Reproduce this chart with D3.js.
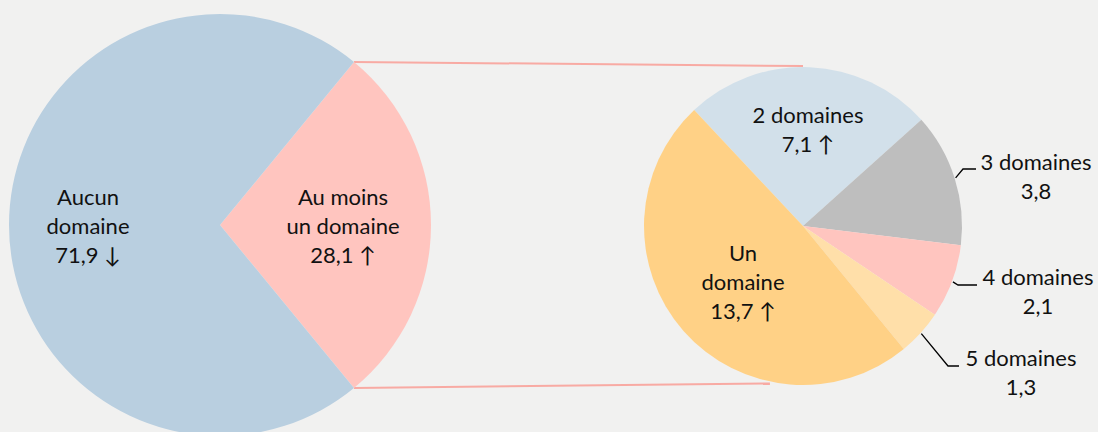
<!DOCTYPE html>
<html>
<head>
<meta charset="utf-8">
<script src="https://cdn.jsdelivr.net/npm/d3@7"></script>
<style>
  body { margin: 0; background: #f1f1f0; }
  svg { display: block; }
  text { font-family: Lato, "Open Sans", sans-serif; font-size: 22px; fill: #111; }
</style>
</head>
<body>
<div id="chart"></div>
<script>
// data
var mainNames = ["Au moins un domaine", "Aucun domaine"];
var mainValues = [28.1, 71.9];
var mainLabels = [["Au moins", "un domaine", "28,1 \u2191"], ["Aucun", "domaine", "71,9 \u2193"]];

var subNames = ["2 domaines", "3 domaines", "4 domaines", "5 domaines", "Un domaine"];
var subValues = [7.1, 3.8, 2.1, 1.3, 13.7];
var subLabels = [["2 domaines", "7,1 \u2191"], ["3 domaines", "3,8"], ["4 domaines", "2,1"],
                 ["5 domaines", "1,3"], ["Un", "domaine", "13,7 \u2191"]];

var width = 1098, height = 432;
var rad = Math.PI / 180;

var mainColors = ["#ffc5bf", "#b9cfe0"];
var subColors = ["#d2e0ea", "#bebebe", "#ffc5bf", "#ffdfa9", "#ffd186"];

var svg = d3.select("#chart").append("svg")
    .attr("width", width)
    .attr("height", height);

// big pie
var bigC = [220, 225], bigR = 211;
var bigStart = Math.PI / 2 - (mainValues[0] / d3.sum(mainValues)) * Math.PI;
var bigPie = d3.pie().sort(null).value(function(d) { return d; })
    .startAngle(bigStart).endAngle(bigStart + 2 * Math.PI);
var bigArcs = bigPie(mainValues);
var bigArc = d3.arc().innerRadius(0).outerRadius(bigR);

// small pie
var smC = [803, 226], smR = 159;
var smStart = -43.2 * rad;
var smPie = d3.pie().sort(null).value(function(d) { return d; })
    .startAngle(smStart).endAngle(smStart + 2 * Math.PI);
var smArcs = smPie(subValues);
var smArc = d3.arc().innerRadius(0).outerRadius(smR);

function pt(c, r, a) { return [c[0] + r * Math.sin(a), c[1] - r * Math.cos(a)]; }

// connector lines
var p1 = pt(bigC, bigR, bigArcs[0].startAngle), p2 = pt(bigC, bigR, bigArcs[0].endAngle);
var q1 = pt(smC, smR, 0), q2 = pt(smC, smR, 192 * rad);
svg.append("line").attr("x1", p1[0]).attr("y1", p1[1]).attr("x2", q1[0]).attr("y2", q1[1] - 1)
    .attr("stroke", "#f8aaa3").attr("stroke-width", 2);
svg.append("line").attr("x1", p2[0]).attr("y1", p2[1]).attr("x2", q2[0]).attr("y2", q2[1] + 2)
    .attr("stroke", "#f8aaa3").attr("stroke-width", 2);

var gBig = svg.append("g").attr("transform", "translate(" + bigC + ")");
gBig.selectAll("path").data(bigArcs).enter().append("path")
    .attr("d", bigArc)
    .attr("fill", function(d, i) { return mainColors[i]; });

var gSm = svg.append("g").attr("transform", "translate(" + smC + ")");
gSm.selectAll("path").data(smArcs).enter().append("path")
    .attr("d", smArc)
    .attr("fill", function(d, i) { return subColors[i]; });

// leader lines for small slices (start at slice mid-angle on the rim)
var leaders = { 1: [[963, 169], [976, 169]], 2: [[958, 285], [977, 285]], 3: [[948, 366], [959, 366]] };
Object.keys(leaders).forEach(function(k) {
  var a = smArcs[k];
  var s = pt(smC, smR + 1, (a.startAngle + a.endAngle) / 2);
  var pts = [s].concat(leaders[k]);
  svg.append("path").attr("d", d3.line()(pts))
      .attr("fill", "none").attr("stroke", "#000").attr("stroke-width", 1.3);
});

// label layout: [center x, first line center y]
var mainLabelPos = [[343, 197], [88, 197]];
var subLabelPos = [[808, 115], [1036, 162], [1038, 277], [1021, 358], [743, 253]];
var lineH = 29;

function drawLabel(lines, pos, xs) {
  var t = svg.append("text").attr("text-anchor", "middle");
  lines.forEach(function(s, j) {
    t.append("tspan")
      .attr("x", xs ? xs[j] : pos[0])
      .attr("y", pos[1] + j * lineH)
      .attr("dy", "0.35em")
      .text(s);
  });
}
mainLabels.forEach(function(l, i) { drawLabel(l, mainLabelPos[i]); });
subLabels.forEach(function(l, i) { drawLabel(l, subLabelPos[i]); });
</script>
</body>
</html>
